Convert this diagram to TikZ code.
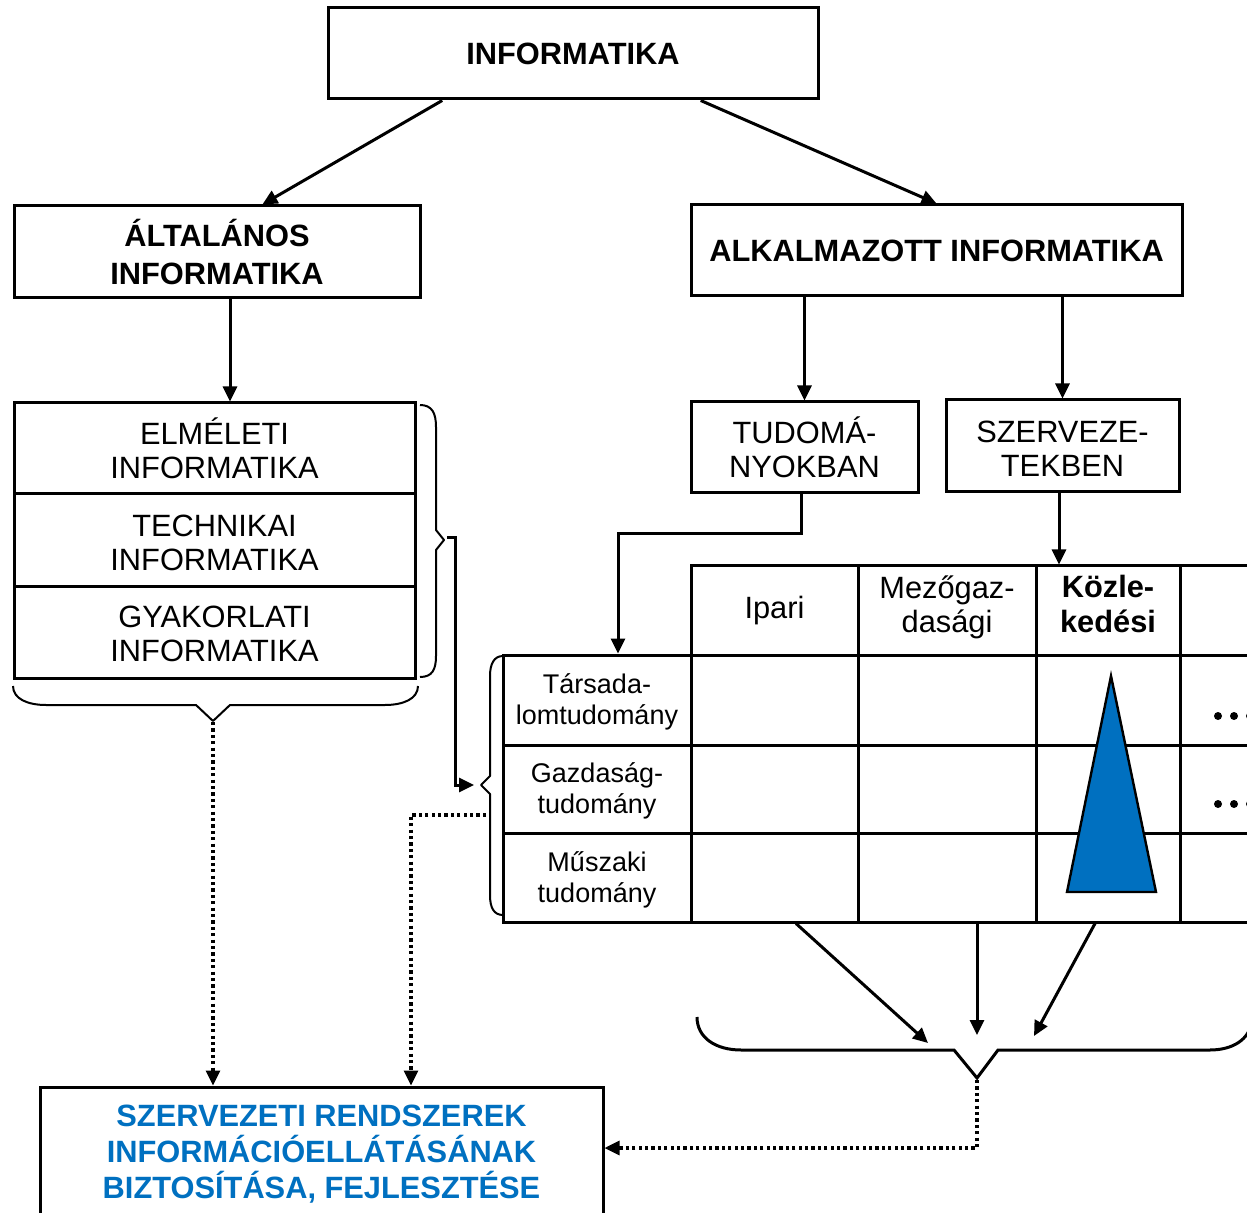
\documentclass[tikz,border=0pt]{standalone}
\usepackage{fontspec}
\setmainfont{Liberation Sans}
\usetikzlibrary{arrows.meta,calc}
\definecolor{ablue}{RGB}{0,112,192}
\begin{document}
\begin{tikzpicture}[x=0.5pt,y=-0.5pt,
  box/.style={draw,line width=1.5pt,align=center,inner sep=0pt},
  lbl/.style={align=center,inner sep=0pt},
  ttl/.style={font=\fontsize{15.4pt}{19pt}\selectfont\bfseries},
  reg/.style={font=\fontsize{15.4pt}{17pt}\selectfont},
  hdr/.style={font=\fontsize{15.4pt}{17pt}\selectfont},
  small/.style={font=\fontsize{13.5pt}{15.5pt}\selectfont},
  arr/.style={line width=1.5pt,-{Triangle[length=7.5pt,width=7pt]}},
  dotarr/.style={line width=1.6pt,dash pattern=on 1.6pt off 1.6pt,-{Triangle[length=7.5pt,width=7pt]}},
  brace/.style={line width=1pt,line join=round},
  grid/.style={line width=1.5pt},
]
\useasboundingbox (0,0) rectangle (1247,1213);

% top level
\node[box,ttl,minimum width=245pt,minimum height=45.5pt] (inf) at (573,53.5) {INFORMATIKA};
\node[box,ttl,minimum width=203pt,minimum height=46pt] (alt) at (217,252) {ÁLTALÁNOS\\INFORMATIKA};
\node[box,ttl,minimum width=245.5pt,minimum height=45.5pt] (alk) at (936.5,250.5) {ALKALMAZOTT INFORMATIKA};

% left stack
\node[box,reg,minimum width=200.5pt,minimum height=45.5pt] (elm) at (214.5,448.5) {ELMÉLETI\\INFORMATIKA};
\node[box,minimum width=200.5pt,minimum height=46pt] (tec) at (214.5,540) {};
\node[lbl,reg] (tect) at ([yshift=-1.5pt]tec.center) {TECHNIKAI\\INFORMATIKA};
\node[box,minimum width=200.5pt,minimum height=46pt] (gya) at (214.5,632) {};
\node[lbl,reg] (gyat) at ([yshift=-1pt]gya.center) {GYAKORLATI\\INFORMATIKA};

% right second level
\node[box,reg,minimum width=113.5pt,minimum height=45.5pt] (tud) at (804.5,447.5) {TUDOMÁ-\\NYOKBAN};
\node[box,minimum width=116.5pt,minimum height=46pt] (szr) at (1062.5,446) {};
\node[lbl,reg] (szrt) at ([yshift=-1.5pt]szr.center) {SZERVEZE-\\TEKBEN};

% table header
\node[box,hdr,minimum width=83.5pt,minimum height=44.5pt] (ipa) at (774.5,610.5) {Ipari};
\node[box,minimum width=89pt,minimum height=44.5pt] (mez) at (947,610.5) {};
\node[lbl,hdr] (mezt) at ([yshift=1.5pt]mez.center) {Mezőgaz-\\dasági};
\node[box,minimum width=72pt,minimum height=44.5pt] (koz) at (1108,610.5) {};
\node[lbl,font=\fontsize{15.4pt}{17.5pt}\selectfont\bfseries] (kozt) at ([yshift=3.25pt]koz.center) {Közle-\\kedési};

% row labels
\node[box,minimum width=94pt,minimum height=45pt] (tars) at (597,700) {};
\node[lbl,small] (tarst) at ([yshift=-1pt]tars.center) {Társada-\\lomtudomány};
\node[box,minimum width=94pt,minimum height=44pt] (gazd) at (597,789) {};
\node[lbl,small] (gazdt) at ([yshift=-1pt]gazd.center) {Gazdaság-\\tudomány};
\node[box,minimum width=94pt,minimum height=44.5pt] (musz) at (597,877.5) {};
\node[lbl,small] (muszt) at ([yshift=-1pt]musz.center) {Műszaki\\tudomány};

% data cells
\foreach \r/\yy/\hh in {1/700/45pt,2/789/44pt,3/877.5/44.5pt}{
  \node[box,minimum width=83.5pt,minimum height=\hh] (c\r1) at (774.5,\yy) {};
  \node[box,minimum width=89pt,minimum height=\hh] (c\r2) at (947,\yy) {};
  \node[box,minimum width=72pt,minimum height=\hh] (c\r3) at (1108,\yy) {};
}
% partial column on the right
\foreach \yy in {566,655,745,833,922}{
  \draw[grid] (1180,\yy) -- (1262,\yy);
}

% triangle
\filldraw[fill=ablue,line width=1.2pt,line join=miter] (1111,676) -- (1156,892) -- (1067,892) -- cycle;

% dots
\foreach \yy in {716,804}{
  \foreach \xx in {1218,1234,1250}{
    \fill (\xx,\yy) circle (2pt);
  }
}

% goal box
\node[box,minimum width=281.5pt,minimum height=66pt] (goal) at (321.5,1153) {};
\node[lbl,font=\fontsize{15.4pt}{18pt}\selectfont\bfseries,text=ablue] (goalt) at ([yshift=-0.75pt]goal.center) {SZERVEZETI RENDSZEREK\\INFORMÁCIÓELLÁTÁSÁNAK\\BIZTOSÍTÁSA, FEJLESZTÉSE};

% braces
\draw[brace] (420,405) .. controls (432,405) and (436,413) .. (436,427) -- (436,530) -- (444,540) -- (436,550) -- (436,656) .. controls (436,670) and (432,677) .. (420,677);
\draw[brace] (13,686) .. controls (13,699) and (28,705) .. (46,705) -- (196,705) -- (213,721) -- (230,705) -- (385,705) .. controls (403,705) and (418,699) .. (418,686);
\draw[brace] (503,656) .. controls (494,656) and (490,664) .. (490,676) -- (490,776) -- (481,785) -- (490,794) -- (490,895) .. controls (490,908) and (494,915) .. (503,915);
\draw[line width=1.5pt,line join=miter] (697,1017) .. controls (697,1038) and (716,1050) .. (741,1050) -- (954,1050) -- (977,1078) -- (998,1050) -- (1210,1050) .. controls (1232,1050) and (1250,1040) .. (1252,1020);

% coordinates
\coordinate (lst) at (447,538);
\coordinate (tbt) at (474,785);
\coordinate (lbb) at (213,722);
\coordinate (tlb) at (486,815);
\coordinate (bbt) at (977,1080);
\coordinate (e1) at (928,1043);
\coordinate (e2) at (977,1035);
\coordinate (e3) at (1034,1036);

% connectors
\draw[arr] ($(inf.south west)!0.2347!(inf.south east)$) -- ($(alt.north west)!0.611!(alt.north east)$);
\draw[arr] ($(inf.south west)!0.759!(inf.south east)$) -- (alk.north);
\draw[arr] ([xshift=6.5pt]alt.south) -- ([xshift=7.75pt]elm.north);
\draw[arr] (tud.north |- alk.south) -- (tud.north);
\draw[arr] (szr.north |- alk.south) -- (szr.north);
\draw[arr] ([xshift=-1.75pt]tud.south) -- ++(0,39) -| ([xshift=10.5pt]tars.north);
\draw[arr] ([xshift=-1.75pt]szr.south) -- ([xshift=-1.75pt]szr.south |- koz.north);
\draw[arr] (lst) -- ++(8,0) |- (tbt);
\draw[arr] ([xshift=10.75pt]c31.south) -- (e1);
\draw[arr] ([xshift=15pt]c32.south) -- (e2);
\draw[arr] ([xshift=-6.5pt]c33.south) -- (e3);

\draw[dotarr] (lbb) -- (lbb |- goal.north);
\draw[dotarr] (tlb) -| ([xshift=44.75pt]goal.north);
\draw[dotarr] (bbt) |- ([yshift=2.5pt]goal.east);
\end{tikzpicture}
\end{document}
